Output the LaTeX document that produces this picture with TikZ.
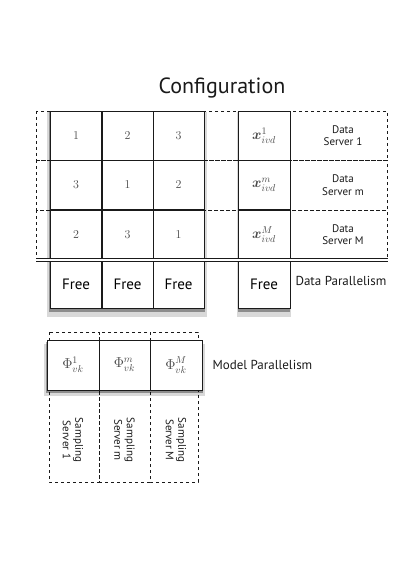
\documentclass[tikz,border=0pt]{standalone}
\usepackage{amsmath,amssymb}
\usepackage{fontspec}
\usepackage{bm}
\setsansfont{PT Sans}
\usetikzlibrary{shadows,positioning}
\definecolor{ink}{HTML}{1A1A1A}
\definecolor{mathgray}{HTML}{4A4A4A}
\tikzset{
  cellbox/.style={draw=ink,thick,fill=white,minimum width=51pt,minimum height=49pt,inner sep=0pt},
  srvrow/.style={draw=ink,dashed,thick},
  softshadow/.style={
    general shadow={fill=black,opacity=0.15,shadow xshift=0pt,shadow yshift=-4.5pt,shadow scale=1.04},
    general shadow={fill=black,opacity=0.35,shadow xshift=0pt,shadow yshift=-2.5pt,shadow scale=1.015}},
  srvlabel/.style={font=\sffamily\fontsize{11}{12.5}\selectfont,align=center,text=ink},
  sidelabel/.style={font=\sffamily\fontsize{13}{15}\selectfont,text=ink,anchor=west},
  freetext/.style={font=\sffamily\fontsize{15}{17}\selectfont},
}

\begin{document}
\begin{tikzpicture}[x=1pt,y=-1pt]
\useasboundingbox (0,0) rectangle (415,588);

\node[font=\sffamily\fontsize{22}{26}\selectfont,text=ink] (title) at (222,88) {Configuration};

% data servers (dashed rows)
\foreach \ytop/\ybot in {111/160,160/210,210/259}{
  \draw[srvrow] (36,\ytop) rectangle (387,\ybot);
}

% blocks with shadow
\fill[white,softshadow] (50,111) rectangle (204,308);
\fill[white,softshadow] (238,111) rectangle (290,308);

% token grid
\foreach \r/\a/\b/\c/\yc in {1/1/2/3/135.5,2/3/1/2/185,3/2/3/1/234.5}{
  \node[cellbox,font=\large] (g\r-1) at (76,\yc) {\color{mathgray}$\a$};
  \node[cellbox,font=\large] (g\r-2) at (127.5,\yc) {\color{mathgray}$\b$};
  \node[cellbox,font=\large] (g\r-3) at (178.5,\yc) {\color{mathgray}$\c$};
}
\foreach \cl/\xc in {1/76,2/127.5,3/178.5}{
  \node[cellbox,freetext] (free\cl) at (\xc,284) {Free};
}

% word column
\foreach \r/\s/\yc/\lbl in {1/1/135.5/Server 1,2/m/185/Server m,3/M/234.5/Server M}{
  \node[cellbox,minimum width=52pt,font=\Large] (x\r) at (264,\yc) {\color{mathgray}$\bm{x}^{\s}_{ivd}$};
  \node[srvlabel] (ds\r) at (343,\yc) {Data\\\lbl};
}
\node[cellbox,minimum width=52pt,freetext] (xfree) at (264,284) {Free};

\draw[ink,thick,double,double distance=1.6pt] (36,260) -- (388,260);
\node[sidelabel] (dpar) at (292,281) {Data Parallelism};

% model parallelism
\foreach \xl/\xr in {49/99,99/150,150/198}{
  \draw[srvrow] (\xl,332) rectangle (\xr,482);
}
\fill[white,softshadow] (47,340) rectangle (202,390);
\foreach \k/\s/\xc/\w/\lbl in {1/1/73/52/Server 1,2/m/124.5/51/Server m,3/M/176/52/Server M}{
  \node[cellbox,minimum width=\w pt,minimum height=50pt,font=\Large] (phi\k) at (\xc,365) {\color{mathgray}$\Phi^{\s}_{vk}$};
  \node[srvlabel,rotate=-90] (ss\k) at (\xc,440) {Sampling\\\lbl};
}
\node[sidelabel] (mpar) at (209,365) {Model Parallelism};

\end{tikzpicture}
\end{document}
